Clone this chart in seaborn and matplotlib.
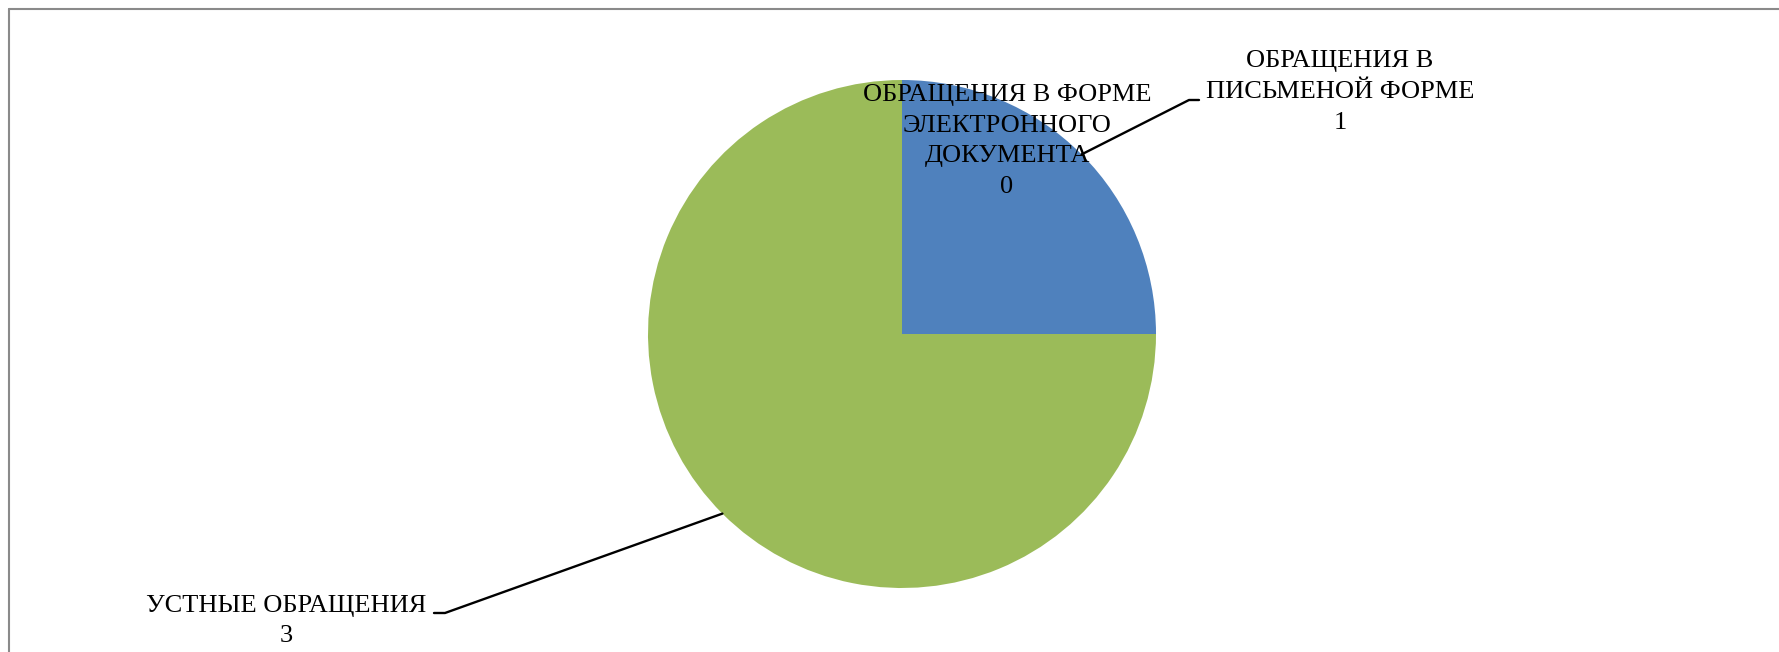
import numpy as np
import matplotlib
matplotlib.use('Agg')
import matplotlib.pyplot as plt
import seaborn as sns
from matplotlib.lines import Line2D

labels = ['ОБРАЩЕНИЯ В\nПИСЬМЕНОЙ ФОРМЕ', 'ОБРАЩЕНИЯ В ФОРМЕ\nЭЛЕКТРОННОГО\nДОКУМЕНТА', 'УСТНЫЕ ОБРАЩЕНИЯ']
values = [1, 0, 3]
colors = ['#4F81BD', '#C0504D', '#9BBB59']

sns.set_theme(style='white')
plt.rcParams['font.family'] = ['Liberation Serif', 'DejaVu Serif']
plt.rcParams['text.color'] = 'black'

W, H = 1779, 652
fig = plt.figure(figsize=(W / 100, H / 100), dpi=100)

# pie center and radius in pixels (from top-left)
cx, cy, r = 902, 334, 254
ax = fig.add_axes([(cx - r) / W, (H - cy - r) / H, 2 * r / W, 2 * r / H])
wedges, _ = ax.pie(values, colors=colors, startangle=90, counterclock=False,
                   radius=1, wedgeprops=dict(linewidth=0))
ax.set_xlim(-1, 1)
ax.set_ylim(-1, 1)
ax.set_aspect('equal')
ax.axis('off')


def px(x, y):
    return (x - cx) / r, (cy - y) / r


def mid_point(w):
    a = np.deg2rad((w.theta1 + w.theta2) / 2)
    return np.cos(a), np.sin(a)


fs = 19
ls = 1.52
# written
tx, ty = px(1340, 92)
ax.text(tx, ty, labels[0] + '\n' + str(values[0]), ha='center', va='center',
        fontsize=fs, linespacing=ls, color='black', clip_on=False)
p1, p2 = px(1199, 100), px(1189, 100)
ex, ey = mid_point(wedges[0])
ax.plot([p1[0], p2[0], ex], [p1[1], p2[1], ey], color='black', lw=1.7, clip_on=False)

# electronic
tx, ty = px(1007, 141)
ax.text(tx, ty, labels[1] + '\n' + str(values[1]), ha='center', va='center',
        fontsize=fs, linespacing=ls, color='black', clip_on=False)

# oral
tx, ty = px(286, 621)
ax.text(tx, ty, labels[2] + '\n' + str(values[2]), ha='center', va='center',
        fontsize=fs, linespacing=ls, color='black', clip_on=False)
p1, p2 = px(434, 613), px(445, 613)
ex, ey = mid_point(wedges[2])
ax.plot([p1[0], p2[0], ex], [p1[1], p2[1], ey], color='black', lw=1.7, clip_on=False)

# chart area border (top and left visible)
bx, by = 9 / W, 1 - 9 / H
fig.add_artist(Line2D([bx, 1.0], [by, by], color='#8a8a8a', lw=1.5))
fig.add_artist(Line2D([bx, bx], [by, 0.0], color='#8a8a8a', lw=1.5))

fig.savefig('out.png', dpi=100, facecolor='white')
